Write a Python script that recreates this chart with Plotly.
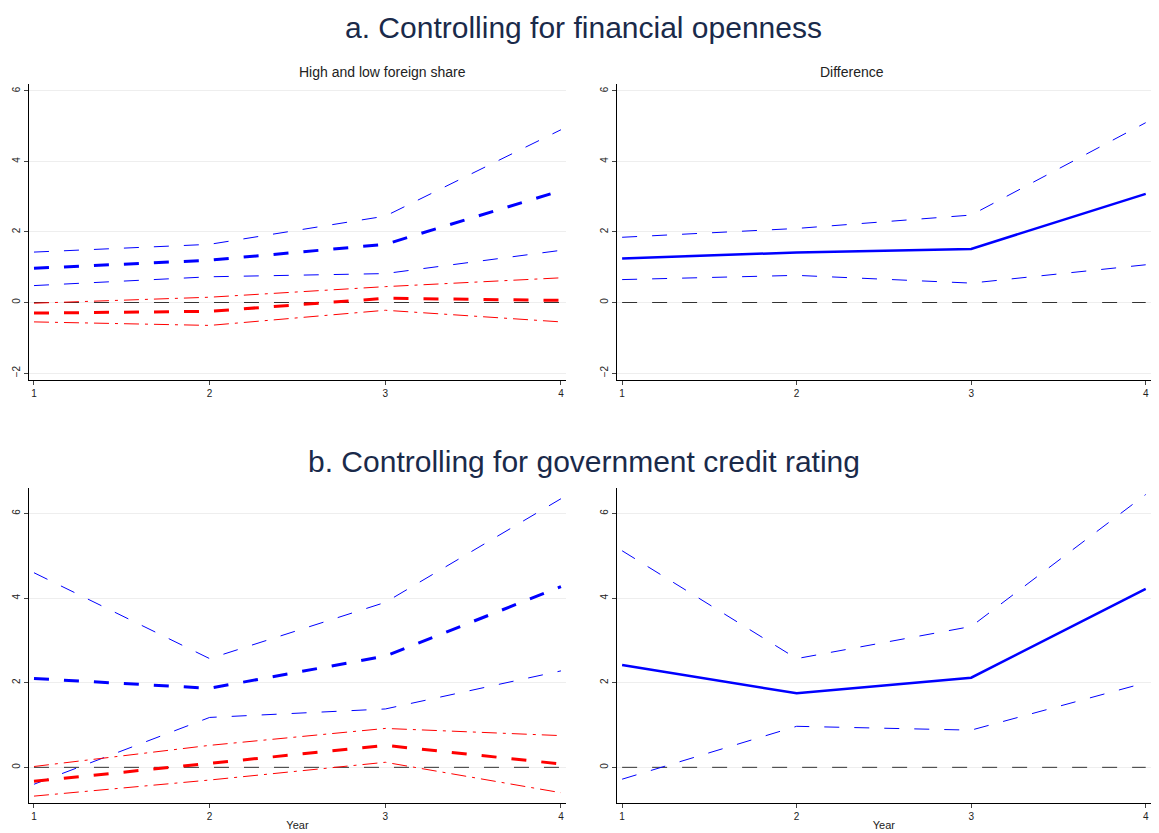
import plotly.graph_objects as go

years = [1, 2, 3, 4]
# Panel a
a_hi = [0.97, 1.2, 1.65, 3.17]; a_hi_u = [1.43, 1.65, 2.45, 4.9]; a_hi_l = [0.48, 0.73, 0.82, 1.48]
a_lo = [-0.3, -0.25, 0.12, 0.06]; a_lo_u = [-0.02, 0.15, 0.45, 0.7]; a_lo_l = [-0.55, -0.65, -0.22, -0.55]
a_d = [1.25, 1.42, 1.52, 3.08]; a_d_u = [1.85, 2.1, 2.48, 5.1]; a_d_l = [0.65, 0.77, 0.55, 1.07]
# Panel b
b_hi = [2.1, 1.87, 2.63, 4.27]; b_hi_u = [4.6, 2.57, 3.9, 6.35]; b_hi_l = [-0.4, 1.18, 1.38, 2.28]
b_lo = [-0.33, 0.1, 0.52, 0.08]; b_lo_u = [0.02, 0.52, 0.92, 0.75]; b_lo_l = [-0.68, -0.3, 0.12, -0.6]
b_d = [2.42, 1.75, 2.12, 4.22]; b_d_u = [5.12, 2.57, 3.33, 6.45]; b_d_l = [-0.28, 0.97, 0.88, 2.0]
zero = [0, 0, 0, 0]

fig = go.Figure()
BLUE = "#0000ff"; RED = "#ff0000"

def add(y, ax, color, width, dash):
    fig.add_trace(go.Scatter(x=years, y=y, mode="lines", xaxis="x" + ax, yaxis="y" + ax,
                             line=dict(color=color, width=width, dash=dash), showlegend=False))

for ax, hi, hu, hl, lo, lu, ll in [("", a_hi, a_hi_u, a_hi_l, a_lo, a_lo_u, a_lo_l),
                                   ("3", b_hi, b_hi_u, b_hi_l, b_lo, b_lo_u, b_lo_l)]:
    add(zero, ax, "#333333", 1, "longdash")
    add(hu, ax, BLUE, 1, "longdash"); add(hl, ax, BLUE, 1, "longdash")
    add(lu, ax, RED, 1, "longdashdot"); add(ll, ax, RED, 1, "longdashdot")
    add(lo, ax, RED, 3, "longdash"); add(hi, ax, BLUE, 3, "longdash")
for ax, d, du, dl in [("2", a_d, a_d_u, a_d_l), ("4", b_d, b_d_u, b_d_l)]:
    add(zero, ax, "#333333", 1, "longdash")
    add(du, ax, BLUE, 1, "longdash"); add(dl, ax, BLUE, 1, "longdash")
    add(d, ax, BLUE, 2.5, "solid")

xd = [[0.018, 0.485], [0.529, 0.993]]
yd = [[0.549, 0.908], [0.036, 0.418]]
tick = dict(size=10, color="#222")
def xax(dom, anchor, title=None):
    return dict(domain=dom, anchor=anchor, range=[0.97, 4.03], tickvals=years, showgrid=False,
                showline=True, linecolor="black", ticks="outside", ticklen=4, tickfont=tick,
                zeroline=False,
                title=dict(text=title, font=dict(size=11, color="#222"), standoff=0) if title else None)
def yax(dom, anchor, rng, tv):
    return dict(domain=dom, anchor=anchor, range=rng, tickvals=tv, tickangle=-90, showgrid=True,
                gridcolor="#eeeeee", showline=True, linecolor="black", ticks="outside", ticklen=4,
                tickfont=tick, zeroline=False)

fig.update_layout(
    width=1151, height=825, margin=dict(l=0, r=0, t=0, b=0),
    plot_bgcolor="white", paper_bgcolor="white",
    font=dict(family="Liberation Sans, Arial"),
    xaxis=xax(xd[0], "y"), yaxis=yax(yd[0], "x", [-2.2, 6.2], [-2, 0, 2, 4, 6]),
    xaxis2=xax(xd[1], "y2"), yaxis2=yax(yd[0], "x2", [-2.2, 6.2], [-2, 0, 2, 4, 6]),
    xaxis3=xax(xd[0], "y3", "Year"), yaxis3=yax(yd[1], "x3", [-0.85, 6.6], [0, 2, 4, 6]),
    xaxis4=xax(xd[1], "y4", "Year"), yaxis4=yax(yd[1], "x4", [-0.85, 6.6], [0, 2, 4, 6]),
    annotations=[
        dict(text="a. Controlling for financial openness", x=0.5, y=0.999, xref="paper", yref="paper",
             showarrow=False, font=dict(size=30, color="#1a2a4a")),
        dict(text="b. Controlling for government credit rating", x=0.5, y=0.45, xref="paper", yref="paper",
             showarrow=False, font=dict(size=30, color="#1a2a4a")),
        dict(text="High and low foreign share", x=0.251, y=0.934, xref="paper", yref="paper",
             showarrow=False, font=dict(size=14, color="#222")),
        dict(text="Difference", x=0.763, y=0.934, xref="paper", yref="paper",
             showarrow=False, font=dict(size=14, color="#222")),
    ])
fig.write_html("out.html")
